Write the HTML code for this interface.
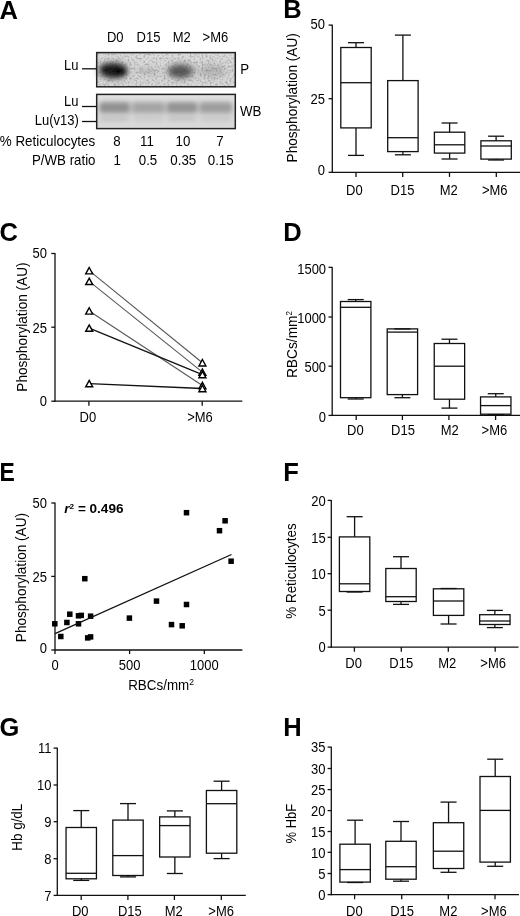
<!DOCTYPE html>
<html><head><meta charset="utf-8"><title>Figure</title>
<style>
html,body{margin:0;padding:0;background:#fff;}
svg{display:block;will-change:transform;}
text{font-family:"Liberation Sans", sans-serif;fill:#000;}
</style></head><body>
<svg width="520" height="916" viewBox="0 0 520 916">
<defs>
<linearGradient id="pbg" x1="0" y1="0" x2="0" y2="1">
<stop offset="0" stop-color="#dedede"/><stop offset="0.5" stop-color="#d6d6d6"/><stop offset="1" stop-color="#dadada"/>
</linearGradient>
<linearGradient id="wbbg" x1="0" y1="0" x2="0" y2="1">
<stop offset="0" stop-color="#e2e2e2"/><stop offset="0.5" stop-color="#d4d4d4"/><stop offset="1" stop-color="#dadada"/>
</linearGradient>
<filter id="blur1" x="-20%" y="-50%" width="140%" height="200%"><feGaussianBlur stdDeviation="2.5"/></filter>
<filter id="blur2" x="-20%" y="-50%" width="140%" height="200%"><feGaussianBlur stdDeviation="2"/></filter>
<filter id="nz" x="0" y="0" width="1" height="1" filterUnits="objectBoundingBox" color-interpolation-filters="sRGB">
<feTurbulence type="fractalNoise" baseFrequency="0.5" numOctaves="2" seed="11" result="t"/>
<feColorMatrix in="t" type="matrix" values="0 0 0 0 0.3  0 0 0 0 0.3  0 0 0 0 0.3  0 0 0 1.0 -0.44" result="c"/>
<feGaussianBlur in="c" stdDeviation="0.55"/>
</filter>
</defs>
<rect width="520" height="916" fill="#fff"/>
<text transform="translate(-0.50,18.90) scale(1.0,1.0)" font-size="25.5" text-anchor="start" font-weight="bold" >A</text>
<text transform="translate(115.20,42.30) scale(1.0,1.08)" font-size="13" text-anchor="middle" font-weight="normal" >D0</text>
<text transform="translate(148.50,42.30) scale(1.0,1.08)" font-size="13" text-anchor="middle" font-weight="normal" >D15</text>
<text transform="translate(181.80,42.30) scale(1.0,1.08)" font-size="13" text-anchor="middle" font-weight="normal" >M2</text>
<text transform="translate(215.40,42.30) scale(1.0,1.08)" font-size="13" text-anchor="middle" font-weight="normal" >&gt;M6</text>
<rect x="96.7" y="52.6" width="138.6" height="34.2" fill="url(#pbg)" />
<g filter="url(#blur1)">
<ellipse cx="113" cy="70.5" rx="16.5" ry="10" fill="#777" opacity="0.55"/>
<ellipse cx="113.5" cy="70.5" rx="13.5" ry="7.5" fill="#111" opacity="0.92"/>
<ellipse cx="106" cy="68.5" rx="6" ry="4.5" fill="#111" opacity="0.8"/>
<ellipse cx="120" cy="72.5" rx="7" ry="4.5" fill="#000" opacity="0.8"/>
<ellipse cx="148" cy="71.5" rx="12" ry="2.2" fill="#888" opacity="0.45"/>
<ellipse cx="181" cy="71" rx="15" ry="8.5" fill="#777" opacity="0.6"/>
<ellipse cx="180" cy="71.5" rx="11" ry="6" fill="#3a3a3a" opacity="0.7"/>
<ellipse cx="212" cy="71" rx="13" ry="7" fill="#999" opacity="0.45"/>
</g>
<rect x="96.7" y="52.6" width="138.6" height="34.2" fill="#000" filter="url(#nz)"/>
<rect x="96.7" y="52.6" width="138.6" height="34.2" fill="none" stroke="#222" stroke-width="1.5"/>
<rect x="96.7" y="94.4" width="138.6" height="34.2" fill="url(#wbbg)" />
<g filter="url(#blur2)">
<rect x="99" y="101" width="134" height="13" rx="4" fill="#aaa" opacity="0.45"/>
<rect x="99.5" y="102.5" width="30.0" height="10" rx="4" fill="#888" opacity="0.85"/>
<rect x="100.5" y="116.5" width="28.0" height="4.5" rx="2" fill="#aaa" opacity="0.47"/>
<rect x="132.5" y="102.5" width="32.0" height="10" rx="4" fill="#888" opacity="0.5"/>
<rect x="133.5" y="116.5" width="30.0" height="4.5" rx="2" fill="#aaa" opacity="0.28"/>
<rect x="167" y="102.5" width="30" height="10" rx="4" fill="#888" opacity="0.8"/>
<rect x="168" y="116.5" width="28" height="4.5" rx="2" fill="#aaa" opacity="0.44"/>
<rect x="200" y="102.5" width="32" height="10" rx="4" fill="#888" opacity="0.62"/>
<rect x="201" y="116.5" width="30" height="4.5" rx="2" fill="#aaa" opacity="0.34"/>
</g>
<rect x="96.7" y="94.4" width="138.6" height="34.2" fill="none" stroke="#222" stroke-width="1.5"/>
<text transform="translate(78.50,70.00) scale(1.0,1.08)" font-size="13" text-anchor="end" font-weight="normal" >Lu</text>
<line x1="82.00" y1="68.80" x2="96.50" y2="68.80" stroke="#111" stroke-width="1.3"/>
<text transform="translate(78.50,105.80) scale(1.0,1.08)" font-size="13" text-anchor="end" font-weight="normal" >Lu</text>
<line x1="82.00" y1="106.50" x2="96.50" y2="106.50" stroke="#111" stroke-width="1.3"/>
<text transform="translate(78.80,124.70) scale(1.0,1.08)" font-size="13" text-anchor="end" font-weight="normal" >Lu(v13)</text>
<line x1="82.00" y1="121.50" x2="96.50" y2="121.50" stroke="#111" stroke-width="1.3"/>
<text transform="translate(240.30,74.00) scale(1.0,1.08)" font-size="13.3" text-anchor="start" font-weight="normal" >P</text>
<text transform="translate(240.00,115.70) scale(1.0,1.08)" font-size="13.3" text-anchor="start" font-weight="normal" >WB</text>
<text transform="translate(95.30,145.50) scale(1.0,1.08)" font-size="13.45" text-anchor="end" font-weight="normal" >% Reticulocytes</text>
<text transform="translate(95.50,165.30) scale(1.0,1.08)" font-size="13.3" text-anchor="end" font-weight="normal" >P/WB ratio</text>
<text transform="translate(117.00,145.50) scale(1.0,1.08)" font-size="13.3" text-anchor="middle" font-weight="normal" >8</text>
<text transform="translate(147.00,145.50) scale(1.0,1.08)" font-size="13.3" text-anchor="middle" font-weight="normal" >11</text>
<text transform="translate(183.00,145.50) scale(1.0,1.08)" font-size="13.3" text-anchor="middle" font-weight="normal" >10</text>
<text transform="translate(220.00,145.50) scale(1.0,1.08)" font-size="13.3" text-anchor="middle" font-weight="normal" >7</text>
<text transform="translate(117.30,165.30) scale(1.0,1.08)" font-size="13.3" text-anchor="middle" font-weight="normal" >1</text>
<text transform="translate(148.00,165.30) scale(1.0,1.08)" font-size="13.3" text-anchor="middle" font-weight="normal" >0.5</text>
<text transform="translate(183.30,165.30) scale(1.0,1.08)" font-size="13.3" text-anchor="middle" font-weight="normal" >0.35</text>
<text transform="translate(220.70,165.30) scale(1.0,1.08)" font-size="13.3" text-anchor="middle" font-weight="normal" >0.15</text>
<text transform="translate(283.20,17.50) scale(1.0,1.0)" font-size="25.5" text-anchor="start" font-weight="bold" >B</text>
<line x1="332.30" y1="24.70" x2="332.30" y2="172.90" stroke="#111" stroke-width="1.3"/>
<line x1="328.60" y1="25.10" x2="332.30" y2="25.10" stroke="#111" stroke-width="1.3"/>
<text transform="translate(324.90,29.05) scale(1.0,1.08)" font-size="13" text-anchor="end" font-weight="normal" >50</text>
<line x1="328.60" y1="98.70" x2="332.30" y2="98.70" stroke="#111" stroke-width="1.3"/>
<text transform="translate(324.90,103.85) scale(1.0,1.08)" font-size="13" text-anchor="end" font-weight="normal" >25</text>
<line x1="328.60" y1="172.30" x2="332.30" y2="172.30" stroke="#111" stroke-width="1.3"/>
<text transform="translate(324.90,175.35) scale(1.0,1.08)" font-size="13" text-anchor="end" font-weight="normal" >0</text>
<line x1="331.60" y1="172.30" x2="520.00" y2="172.30" stroke="#111" stroke-width="1.3"/>
<line x1="356.00" y1="172.30" x2="356.00" y2="176.90" stroke="#111" stroke-width="1.3"/>
<text transform="translate(354.30,194.50) scale(1.0,1.08)" font-size="13" text-anchor="middle" font-weight="normal" >D0</text>
<line x1="402.70" y1="172.30" x2="402.70" y2="176.90" stroke="#111" stroke-width="1.3"/>
<text transform="translate(402.50,194.50) scale(1.0,1.08)" font-size="13" text-anchor="middle" font-weight="normal" >D15</text>
<line x1="449.50" y1="172.30" x2="449.50" y2="176.90" stroke="#111" stroke-width="1.3"/>
<text transform="translate(448.80,194.50) scale(1.0,1.08)" font-size="13" text-anchor="middle" font-weight="normal" >M2</text>
<line x1="496.30" y1="172.30" x2="496.30" y2="176.90" stroke="#111" stroke-width="1.3"/>
<text transform="translate(494.75,194.50) scale(1.0,1.08)" font-size="13" text-anchor="middle" font-weight="normal" >&gt;M6</text>
<text transform="translate(296.80,97.85) rotate(-90) scale(1,1.08)" font-size="13.6" text-anchor="middle">Phosphorylation (AU)</text>
<line x1="356.00" y1="42.70" x2="356.00" y2="47.50" stroke="#111" stroke-width="1.3"/>
<line x1="356.00" y1="127.90" x2="356.00" y2="155.40" stroke="#111" stroke-width="1.3"/>
<line x1="348.00" y1="42.70" x2="364.00" y2="42.70" stroke="#111" stroke-width="1.3"/>
<line x1="348.00" y1="155.40" x2="364.00" y2="155.40" stroke="#111" stroke-width="1.3"/>
<rect x="340.80" y="47.50" width="30.40" height="80.40" fill="none" stroke="#111" stroke-width="1.3"/>
<line x1="340.80" y1="82.70" x2="371.20" y2="82.70" stroke="#111" stroke-width="1.3"/>
<line x1="402.90" y1="35.10" x2="402.90" y2="80.60" stroke="#111" stroke-width="1.3"/>
<line x1="402.90" y1="151.60" x2="402.90" y2="154.80" stroke="#111" stroke-width="1.3"/>
<line x1="394.90" y1="35.10" x2="410.90" y2="35.10" stroke="#111" stroke-width="1.3"/>
<line x1="394.90" y1="154.80" x2="410.90" y2="154.80" stroke="#111" stroke-width="1.3"/>
<rect x="387.70" y="80.60" width="30.40" height="71.00" fill="none" stroke="#111" stroke-width="1.3"/>
<line x1="387.70" y1="137.70" x2="418.10" y2="137.70" stroke="#111" stroke-width="1.3"/>
<line x1="449.60" y1="123.00" x2="449.60" y2="132.20" stroke="#111" stroke-width="1.3"/>
<line x1="449.60" y1="153.10" x2="449.60" y2="159.00" stroke="#111" stroke-width="1.3"/>
<line x1="441.60" y1="123.00" x2="457.60" y2="123.00" stroke="#111" stroke-width="1.3"/>
<line x1="441.60" y1="159.00" x2="457.60" y2="159.00" stroke="#111" stroke-width="1.3"/>
<rect x="434.40" y="132.20" width="30.40" height="20.90" fill="none" stroke="#111" stroke-width="1.3"/>
<line x1="434.40" y1="144.80" x2="464.80" y2="144.80" stroke="#111" stroke-width="1.3"/>
<line x1="496.10" y1="136.20" x2="496.10" y2="140.80" stroke="#111" stroke-width="1.3"/>
<line x1="496.10" y1="159.10" x2="496.10" y2="160.00" stroke="#111" stroke-width="1.3"/>
<line x1="488.10" y1="136.20" x2="504.10" y2="136.20" stroke="#111" stroke-width="1.3"/>
<line x1="488.10" y1="160.00" x2="504.10" y2="160.00" stroke="#111" stroke-width="1.3"/>
<rect x="480.90" y="140.80" width="30.40" height="18.30" fill="none" stroke="#111" stroke-width="1.3"/>
<line x1="480.90" y1="146.00" x2="511.30" y2="146.00" stroke="#111" stroke-width="1.3"/>
<text transform="translate(-0.50,240.60) scale(1.0,1.0)" font-size="25.5" text-anchor="start" font-weight="bold" >C</text>
<line x1="55.00" y1="253.10" x2="55.00" y2="401.80" stroke="#111" stroke-width="1.3"/>
<line x1="51.30" y1="253.50" x2="55.00" y2="253.50" stroke="#111" stroke-width="1.3"/>
<text transform="translate(47.00,257.60) scale(1.0,1.08)" font-size="13" text-anchor="end" font-weight="normal" >50</text>
<line x1="51.30" y1="327.20" x2="55.00" y2="327.20" stroke="#111" stroke-width="1.3"/>
<text transform="translate(47.00,332.85) scale(1.0,1.08)" font-size="13" text-anchor="end" font-weight="normal" >25</text>
<line x1="51.30" y1="401.20" x2="55.00" y2="401.20" stroke="#111" stroke-width="1.3"/>
<text transform="translate(47.00,405.85) scale(1.0,1.08)" font-size="13" text-anchor="end" font-weight="normal" >0</text>
<line x1="54.40" y1="401.20" x2="242.30" y2="401.20" stroke="#111" stroke-width="1.3"/>
<line x1="88.90" y1="401.20" x2="88.90" y2="405.80" stroke="#111" stroke-width="1.3"/>
<text transform="translate(87.85,421.50) scale(1.0,1.08)" font-size="13" text-anchor="middle" font-weight="normal" >D0</text>
<line x1="202.20" y1="401.20" x2="202.20" y2="405.80" stroke="#111" stroke-width="1.3"/>
<text transform="translate(199.95,421.50) scale(1.0,1.08)" font-size="13" text-anchor="middle" font-weight="normal" >&gt;M6</text>
<text transform="translate(26.50,327.10) rotate(-90) scale(1,1.08)" font-size="13.6" text-anchor="middle">Phosphorylation (AU)</text>
<line x1="89.20" y1="270.71" x2="202.40" y2="362.73" stroke="#555" stroke-width="1.05"/>
<line x1="89.20" y1="281.36" x2="202.40" y2="372.20" stroke="#555" stroke-width="1.05"/>
<line x1="89.20" y1="310.95" x2="202.40" y2="385.52" stroke="#555" stroke-width="1.05"/>
<line x1="89.20" y1="328.11" x2="202.40" y2="374.57" stroke="#111" stroke-width="1.3"/>
<line x1="89.20" y1="383.59" x2="202.40" y2="388.48" stroke="#111" stroke-width="1.3"/>
<path d="M89.20,267.51 L92.70,273.91 L85.70,273.91 Z" fill="#fff" stroke="#000" stroke-width="1.4" stroke-linejoin="miter"/>
<path d="M89.20,278.16 L92.70,284.56 L85.70,284.56 Z" fill="#fff" stroke="#000" stroke-width="1.4" stroke-linejoin="miter"/>
<path d="M89.20,307.75 L92.70,314.15 L85.70,314.15 Z" fill="#fff" stroke="#000" stroke-width="1.4" stroke-linejoin="miter"/>
<path d="M89.20,324.91 L92.70,331.31 L85.70,331.31 Z" fill="#fff" stroke="#000" stroke-width="1.4" stroke-linejoin="miter"/>
<path d="M89.20,380.39 L92.70,386.79 L85.70,386.79 Z" fill="#fff" stroke="#000" stroke-width="1.4" stroke-linejoin="miter"/>
<path d="M202.40,359.53 L205.90,365.93 L198.90,365.93 Z" fill="#fff" stroke="#000" stroke-width="1.4" stroke-linejoin="miter"/>
<path d="M202.40,369.00 L205.90,375.40 L198.90,375.40 Z" fill="#fff" stroke="#000" stroke-width="1.4" stroke-linejoin="miter"/>
<path d="M202.40,371.37 L205.90,377.77 L198.90,377.77 Z" fill="#fff" stroke="#000" stroke-width="1.4" stroke-linejoin="miter"/>
<path d="M202.40,382.32 L205.90,388.72 L198.90,388.72 Z" fill="#fff" stroke="#000" stroke-width="1.4" stroke-linejoin="miter"/>
<path d="M202.40,385.28 L205.90,391.68 L198.90,391.68 Z" fill="#fff" stroke="#000" stroke-width="1.4" stroke-linejoin="miter"/>
<text transform="translate(283.20,240.80) scale(1.0,1.0)" font-size="25.5" text-anchor="start" font-weight="bold" >D</text>
<line x1="332.20" y1="266.90" x2="332.20" y2="416.00" stroke="#111" stroke-width="1.3"/>
<line x1="328.50" y1="267.30" x2="332.20" y2="267.30" stroke="#111" stroke-width="1.3"/>
<text transform="translate(326.10,273.85) scale(1.0,1.08)" font-size="13" text-anchor="end" font-weight="normal" >1500</text>
<line x1="328.50" y1="317.00" x2="332.20" y2="317.00" stroke="#111" stroke-width="1.3"/>
<text transform="translate(326.10,322.65) scale(1.0,1.08)" font-size="13" text-anchor="end" font-weight="normal" >1000</text>
<line x1="328.50" y1="366.20" x2="332.20" y2="366.20" stroke="#111" stroke-width="1.3"/>
<text transform="translate(326.10,371.95) scale(1.0,1.08)" font-size="13" text-anchor="end" font-weight="normal" >500</text>
<line x1="328.50" y1="415.40" x2="332.20" y2="415.40" stroke="#111" stroke-width="1.3"/>
<text transform="translate(326.10,421.95) scale(1.0,1.08)" font-size="13" text-anchor="end" font-weight="normal" >0</text>
<line x1="331.40" y1="415.40" x2="520.00" y2="415.40" stroke="#111" stroke-width="1.3"/>
<line x1="356.20" y1="415.40" x2="356.20" y2="420.00" stroke="#111" stroke-width="1.3"/>
<text transform="translate(355.40,434.80) scale(1.0,1.08)" font-size="13" text-anchor="middle" font-weight="normal" >D0</text>
<line x1="402.40" y1="415.40" x2="402.40" y2="420.00" stroke="#111" stroke-width="1.3"/>
<text transform="translate(403.00,434.80) scale(1.0,1.08)" font-size="13" text-anchor="middle" font-weight="normal" >D15</text>
<line x1="448.90" y1="415.40" x2="448.90" y2="420.00" stroke="#111" stroke-width="1.3"/>
<text transform="translate(449.65,434.80) scale(1.0,1.08)" font-size="13" text-anchor="middle" font-weight="normal" >M2</text>
<line x1="495.60" y1="415.40" x2="495.60" y2="420.00" stroke="#111" stroke-width="1.3"/>
<text transform="translate(494.40,434.80) scale(1.0,1.08)" font-size="13" text-anchor="middle" font-weight="normal" >&gt;M6</text>
<text transform="translate(297.4,344.55) rotate(-90) scale(1,1.08)" font-size="13.75" text-anchor="middle">RBCs/mm<tspan font-size="8" dy="-5.2">2</tspan></text>
<line x1="355.70" y1="299.60" x2="355.70" y2="301.50" stroke="#111" stroke-width="1.3"/>
<line x1="355.70" y1="397.70" x2="355.70" y2="399.00" stroke="#111" stroke-width="1.3"/>
<line x1="347.70" y1="299.60" x2="363.70" y2="299.60" stroke="#111" stroke-width="1.3"/>
<line x1="347.70" y1="399.00" x2="363.70" y2="399.00" stroke="#111" stroke-width="1.3"/>
<rect x="340.50" y="301.50" width="30.40" height="96.20" fill="none" stroke="#111" stroke-width="1.3"/>
<line x1="340.50" y1="307.30" x2="370.90" y2="307.30" stroke="#111" stroke-width="1.3"/>
<line x1="402.40" y1="328.90" x2="402.40" y2="328.90" stroke="#111" stroke-width="1.3"/>
<line x1="402.40" y1="394.60" x2="402.40" y2="397.70" stroke="#111" stroke-width="1.3"/>
<line x1="394.40" y1="328.90" x2="410.40" y2="328.90" stroke="#111" stroke-width="1.3"/>
<line x1="394.40" y1="397.70" x2="410.40" y2="397.70" stroke="#111" stroke-width="1.3"/>
<rect x="387.20" y="328.90" width="30.40" height="65.70" fill="none" stroke="#111" stroke-width="1.3"/>
<line x1="387.20" y1="332.10" x2="417.60" y2="332.10" stroke="#111" stroke-width="1.3"/>
<line x1="449.45" y1="339.20" x2="449.45" y2="343.50" stroke="#111" stroke-width="1.3"/>
<line x1="449.45" y1="399.20" x2="449.45" y2="408.10" stroke="#111" stroke-width="1.3"/>
<line x1="441.45" y1="339.20" x2="457.45" y2="339.20" stroke="#111" stroke-width="1.3"/>
<line x1="441.45" y1="408.10" x2="457.45" y2="408.10" stroke="#111" stroke-width="1.3"/>
<rect x="434.25" y="343.50" width="30.40" height="55.70" fill="none" stroke="#111" stroke-width="1.3"/>
<line x1="434.25" y1="366.20" x2="464.65" y2="366.20" stroke="#111" stroke-width="1.3"/>
<line x1="495.75" y1="393.70" x2="495.75" y2="396.90" stroke="#111" stroke-width="1.3"/>
<line x1="495.75" y1="414.20" x2="495.75" y2="414.60" stroke="#111" stroke-width="1.3"/>
<line x1="487.75" y1="393.70" x2="503.75" y2="393.70" stroke="#111" stroke-width="1.3"/>
<line x1="487.75" y1="414.60" x2="503.75" y2="414.60" stroke="#111" stroke-width="1.3"/>
<rect x="480.55" y="396.90" width="30.40" height="17.30" fill="none" stroke="#111" stroke-width="1.3"/>
<line x1="480.55" y1="405.60" x2="510.95" y2="405.60" stroke="#111" stroke-width="1.3"/>
<text transform="translate(-0.40,481.10) scale(0.9,1.0)" font-size="25.5" text-anchor="start" font-weight="bold" >E</text>
<line x1="55.00" y1="502.60" x2="55.00" y2="650.60" stroke="#111" stroke-width="1.3"/>
<line x1="51.30" y1="503.00" x2="55.00" y2="503.00" stroke="#111" stroke-width="1.3"/>
<text transform="translate(47.00,508.20) scale(1.0,1.08)" font-size="13" text-anchor="end" font-weight="normal" >50</text>
<line x1="51.30" y1="576.40" x2="55.00" y2="576.40" stroke="#111" stroke-width="1.3"/>
<text transform="translate(47.00,581.75) scale(1.0,1.08)" font-size="13" text-anchor="end" font-weight="normal" >25</text>
<line x1="51.30" y1="650.00" x2="55.00" y2="650.00" stroke="#111" stroke-width="1.3"/>
<text transform="translate(47.00,653.35) scale(1.0,1.08)" font-size="13" text-anchor="end" font-weight="normal" >0</text>
<line x1="55.00" y1="650.00" x2="242.40" y2="650.00" stroke="#111" stroke-width="1.3"/>
<line x1="55.00" y1="650.00" x2="55.00" y2="654.00" stroke="#111" stroke-width="1.3"/>
<text transform="translate(55.00,669.60) scale(1.0,1.08)" font-size="13" text-anchor="middle" font-weight="normal" >0</text>
<line x1="129.60" y1="650.00" x2="129.60" y2="654.00" stroke="#111" stroke-width="1.3"/>
<text transform="translate(129.60,669.60) scale(1.0,1.08)" font-size="13" text-anchor="middle" font-weight="normal" >500</text>
<line x1="204.30" y1="650.00" x2="204.30" y2="654.00" stroke="#111" stroke-width="1.3"/>
<text transform="translate(204.30,669.60) scale(1.0,1.08)" font-size="13" text-anchor="middle" font-weight="normal" >1000</text>
<text transform="translate(26.20,577.60) rotate(-90) scale(1,1.08)" font-size="13.6" text-anchor="middle">Phosphorylation (AU)</text>
<text transform="translate(128.2,690.2) scale(1,1.08)" font-size="13.4">RBCs/mm<tspan font-size="8.5" dy="-5">2</tspan></text>
<text transform="translate(64.3,513.4) scale(1.085,1)" font-size="12.5" font-weight="bold"><tspan font-style="italic">r</tspan><tspan font-size="7.5" dy="-4.6">2</tspan><tspan dy="4.6"> = 0.496</tspan></text>
<rect x="52.05" y="621.05" width="5.5" height="5.5" fill="#000"/>
<rect x="58.05" y="633.75" width="5.5" height="5.5" fill="#000"/>
<rect x="64.15" y="619.75" width="5.5" height="5.5" fill="#000"/>
<rect x="67.05" y="611.45" width="5.5" height="5.5" fill="#000"/>
<rect x="75.75" y="613.05" width="5.5" height="5.5" fill="#000"/>
<rect x="78.55" y="612.65" width="5.5" height="5.5" fill="#000"/>
<rect x="75.75" y="621.05" width="5.5" height="5.5" fill="#000"/>
<rect x="82.05" y="575.95" width="5.5" height="5.5" fill="#000"/>
<rect x="87.85" y="613.45" width="5.5" height="5.5" fill="#000"/>
<rect x="84.95" y="635.15" width="5.5" height="5.5" fill="#000"/>
<rect x="87.85" y="634.15" width="5.5" height="5.5" fill="#000"/>
<rect x="126.65" y="615.35" width="5.5" height="5.5" fill="#000"/>
<rect x="183.75" y="509.95" width="5.5" height="5.5" fill="#000"/>
<rect x="222.35" y="518.05" width="5.5" height="5.5" fill="#000"/>
<rect x="216.75" y="527.95" width="5.5" height="5.5" fill="#000"/>
<rect x="228.35" y="558.45" width="5.5" height="5.5" fill="#000"/>
<rect x="153.75" y="598.35" width="5.5" height="5.5" fill="#000"/>
<rect x="183.75" y="601.75" width="5.5" height="5.5" fill="#000"/>
<rect x="168.75" y="621.85" width="5.5" height="5.5" fill="#000"/>
<rect x="179.45" y="623.05" width="5.5" height="5.5" fill="#000"/>
<line x1="55.00" y1="633.70" x2="231.50" y2="554.50" stroke="#111" stroke-width="1.3"/>
<text transform="translate(283.20,480.80) scale(1.0,1.0)" font-size="25.5" text-anchor="start" font-weight="bold" >F</text>
<line x1="331.30" y1="500.00" x2="331.30" y2="647.70" stroke="#111" stroke-width="1.3"/>
<line x1="327.60" y1="500.40" x2="331.30" y2="500.40" stroke="#111" stroke-width="1.3"/>
<text transform="translate(325.80,505.75) scale(1.0,1.08)" font-size="13" text-anchor="end" font-weight="normal" >20</text>
<line x1="327.60" y1="537.30" x2="331.30" y2="537.30" stroke="#111" stroke-width="1.3"/>
<text transform="translate(325.80,542.65) scale(1.0,1.08)" font-size="13" text-anchor="end" font-weight="normal" >15</text>
<line x1="327.60" y1="573.70" x2="331.30" y2="573.70" stroke="#111" stroke-width="1.3"/>
<text transform="translate(325.80,579.05) scale(1.0,1.08)" font-size="13" text-anchor="end" font-weight="normal" >10</text>
<line x1="327.60" y1="610.20" x2="331.30" y2="610.20" stroke="#111" stroke-width="1.3"/>
<text transform="translate(325.80,615.55) scale(1.0,1.08)" font-size="13" text-anchor="end" font-weight="normal" >5</text>
<line x1="327.60" y1="647.10" x2="331.30" y2="647.10" stroke="#111" stroke-width="1.3"/>
<text transform="translate(325.80,652.45) scale(1.0,1.08)" font-size="13" text-anchor="end" font-weight="normal" >0</text>
<line x1="330.70" y1="647.10" x2="518.50" y2="647.10" stroke="#111" stroke-width="1.3"/>
<line x1="354.40" y1="647.10" x2="354.40" y2="651.70" stroke="#111" stroke-width="1.3"/>
<text transform="translate(353.55,667.70) scale(1.0,1.08)" font-size="13" text-anchor="middle" font-weight="normal" >D0</text>
<line x1="401.30" y1="647.10" x2="401.30" y2="651.70" stroke="#111" stroke-width="1.3"/>
<text transform="translate(401.25,667.70) scale(1.0,1.08)" font-size="13" text-anchor="middle" font-weight="normal" >D15</text>
<line x1="448.30" y1="647.10" x2="448.30" y2="651.70" stroke="#111" stroke-width="1.3"/>
<text transform="translate(447.25,667.70) scale(1.0,1.08)" font-size="13" text-anchor="middle" font-weight="normal" >M2</text>
<line x1="495.20" y1="647.10" x2="495.20" y2="651.70" stroke="#111" stroke-width="1.3"/>
<text transform="translate(493.15,667.70) scale(1.0,1.08)" font-size="13" text-anchor="middle" font-weight="normal" >&gt;M6</text>
<text transform="translate(295.90,571.00) rotate(-90) scale(1,1.08)" font-size="13.4" text-anchor="middle">% Reticulocytes</text>
<line x1="354.60" y1="516.70" x2="354.60" y2="536.90" stroke="#111" stroke-width="1.3"/>
<line x1="354.60" y1="591.50" x2="354.60" y2="592.00" stroke="#111" stroke-width="1.3"/>
<line x1="346.60" y1="516.70" x2="362.60" y2="516.70" stroke="#111" stroke-width="1.3"/>
<line x1="346.60" y1="592.00" x2="362.60" y2="592.00" stroke="#111" stroke-width="1.3"/>
<rect x="339.40" y="536.90" width="30.40" height="54.60" fill="none" stroke="#111" stroke-width="1.3"/>
<line x1="339.40" y1="583.80" x2="369.80" y2="583.80" stroke="#111" stroke-width="1.3"/>
<line x1="401.00" y1="556.70" x2="401.00" y2="568.50" stroke="#111" stroke-width="1.3"/>
<line x1="401.00" y1="601.50" x2="401.00" y2="604.40" stroke="#111" stroke-width="1.3"/>
<line x1="393.00" y1="556.70" x2="409.00" y2="556.70" stroke="#111" stroke-width="1.3"/>
<line x1="393.00" y1="604.40" x2="409.00" y2="604.40" stroke="#111" stroke-width="1.3"/>
<rect x="385.80" y="568.50" width="30.40" height="33.00" fill="none" stroke="#111" stroke-width="1.3"/>
<line x1="385.80" y1="596.70" x2="416.20" y2="596.70" stroke="#111" stroke-width="1.3"/>
<line x1="448.60" y1="588.50" x2="448.60" y2="588.80" stroke="#111" stroke-width="1.3"/>
<line x1="448.60" y1="615.40" x2="448.60" y2="624.00" stroke="#111" stroke-width="1.3"/>
<line x1="440.60" y1="588.50" x2="456.60" y2="588.50" stroke="#111" stroke-width="1.3"/>
<line x1="440.60" y1="624.00" x2="456.60" y2="624.00" stroke="#111" stroke-width="1.3"/>
<rect x="433.40" y="588.80" width="30.40" height="26.60" fill="none" stroke="#111" stroke-width="1.3"/>
<line x1="433.40" y1="601.00" x2="463.80" y2="601.00" stroke="#111" stroke-width="1.3"/>
<line x1="494.85" y1="610.40" x2="494.85" y2="614.70" stroke="#111" stroke-width="1.3"/>
<line x1="494.85" y1="624.50" x2="494.85" y2="627.60" stroke="#111" stroke-width="1.3"/>
<line x1="486.85" y1="610.40" x2="502.85" y2="610.40" stroke="#111" stroke-width="1.3"/>
<line x1="486.85" y1="627.60" x2="502.85" y2="627.60" stroke="#111" stroke-width="1.3"/>
<rect x="479.65" y="614.70" width="30.40" height="9.80" fill="none" stroke="#111" stroke-width="1.3"/>
<line x1="479.65" y1="621.00" x2="510.05" y2="621.00" stroke="#111" stroke-width="1.3"/>
<text transform="translate(-0.50,735.60) scale(1.0,1.0)" font-size="25.5" text-anchor="start" font-weight="bold" >G</text>
<line x1="57.30" y1="747.70" x2="57.30" y2="896.00" stroke="#111" stroke-width="1.3"/>
<line x1="53.60" y1="748.10" x2="57.30" y2="748.10" stroke="#111" stroke-width="1.3"/>
<text transform="translate(51.50,753.45) scale(1.0,1.08)" font-size="13" text-anchor="end" font-weight="normal" >11</text>
<line x1="53.60" y1="785.00" x2="57.30" y2="785.00" stroke="#111" stroke-width="1.3"/>
<text transform="translate(51.50,790.35) scale(1.0,1.08)" font-size="13" text-anchor="end" font-weight="normal" >10</text>
<line x1="53.60" y1="821.70" x2="57.30" y2="821.70" stroke="#111" stroke-width="1.3"/>
<text transform="translate(51.50,827.05) scale(1.0,1.08)" font-size="13" text-anchor="end" font-weight="normal" >9</text>
<line x1="53.60" y1="858.70" x2="57.30" y2="858.70" stroke="#111" stroke-width="1.3"/>
<text transform="translate(51.50,864.05) scale(1.0,1.08)" font-size="13" text-anchor="end" font-weight="normal" >8</text>
<line x1="53.60" y1="895.40" x2="57.30" y2="895.40" stroke="#111" stroke-width="1.3"/>
<text transform="translate(51.50,900.75) scale(1.0,1.08)" font-size="13" text-anchor="end" font-weight="normal" >7</text>
<line x1="56.70" y1="895.40" x2="245.80" y2="895.40" stroke="#111" stroke-width="1.3"/>
<line x1="81.20" y1="895.40" x2="81.20" y2="900.00" stroke="#111" stroke-width="1.3"/>
<text transform="translate(80.20,916.20) scale(1.0,1.08)" font-size="13" text-anchor="middle" font-weight="normal" >D0</text>
<line x1="127.90" y1="895.40" x2="127.90" y2="900.00" stroke="#111" stroke-width="1.3"/>
<text transform="translate(129.80,916.20) scale(1.0,1.08)" font-size="13" text-anchor="middle" font-weight="normal" >D15</text>
<line x1="174.40" y1="895.40" x2="174.40" y2="900.00" stroke="#111" stroke-width="1.3"/>
<text transform="translate(173.65,916.20) scale(1.0,1.08)" font-size="13" text-anchor="middle" font-weight="normal" >M2</text>
<line x1="221.30" y1="895.40" x2="221.30" y2="900.00" stroke="#111" stroke-width="1.3"/>
<text transform="translate(221.15,916.20) scale(1.0,1.08)" font-size="13" text-anchor="middle" font-weight="normal" >&gt;M6</text>
<text transform="translate(22.00,827.20) rotate(-90) scale(1,1.08)" font-size="13.4" text-anchor="middle">Hb g/dL</text>
<line x1="81.25" y1="810.60" x2="81.25" y2="827.50" stroke="#111" stroke-width="1.3"/>
<line x1="81.25" y1="878.80" x2="81.25" y2="880.40" stroke="#111" stroke-width="1.3"/>
<line x1="73.25" y1="810.60" x2="89.25" y2="810.60" stroke="#111" stroke-width="1.3"/>
<line x1="73.25" y1="880.40" x2="89.25" y2="880.40" stroke="#111" stroke-width="1.3"/>
<rect x="66.05" y="827.50" width="30.40" height="51.30" fill="none" stroke="#111" stroke-width="1.3"/>
<line x1="66.05" y1="873.30" x2="96.45" y2="873.30" stroke="#111" stroke-width="1.3"/>
<line x1="128.00" y1="803.60" x2="128.00" y2="820.10" stroke="#111" stroke-width="1.3"/>
<line x1="128.00" y1="875.50" x2="128.00" y2="876.90" stroke="#111" stroke-width="1.3"/>
<line x1="120.00" y1="803.60" x2="136.00" y2="803.60" stroke="#111" stroke-width="1.3"/>
<line x1="120.00" y1="876.90" x2="136.00" y2="876.90" stroke="#111" stroke-width="1.3"/>
<rect x="112.80" y="820.10" width="30.40" height="55.40" fill="none" stroke="#111" stroke-width="1.3"/>
<line x1="112.80" y1="855.60" x2="143.20" y2="855.60" stroke="#111" stroke-width="1.3"/>
<line x1="174.85" y1="810.90" x2="174.85" y2="816.90" stroke="#111" stroke-width="1.3"/>
<line x1="174.85" y1="857.00" x2="174.85" y2="873.50" stroke="#111" stroke-width="1.3"/>
<line x1="166.85" y1="810.90" x2="182.85" y2="810.90" stroke="#111" stroke-width="1.3"/>
<line x1="166.85" y1="873.50" x2="182.85" y2="873.50" stroke="#111" stroke-width="1.3"/>
<rect x="159.65" y="816.90" width="30.40" height="40.10" fill="none" stroke="#111" stroke-width="1.3"/>
<line x1="159.65" y1="825.60" x2="190.05" y2="825.60" stroke="#111" stroke-width="1.3"/>
<line x1="221.60" y1="781.20" x2="221.60" y2="790.50" stroke="#111" stroke-width="1.3"/>
<line x1="221.60" y1="853.20" x2="221.60" y2="858.60" stroke="#111" stroke-width="1.3"/>
<line x1="213.60" y1="781.20" x2="229.60" y2="781.20" stroke="#111" stroke-width="1.3"/>
<line x1="213.60" y1="858.60" x2="229.60" y2="858.60" stroke="#111" stroke-width="1.3"/>
<rect x="206.40" y="790.50" width="30.40" height="62.70" fill="none" stroke="#111" stroke-width="1.3"/>
<line x1="206.40" y1="803.70" x2="236.80" y2="803.70" stroke="#111" stroke-width="1.3"/>
<text transform="translate(283.20,736.20) scale(1.0,1.0)" font-size="25.5" text-anchor="start" font-weight="bold" >H</text>
<line x1="331.30" y1="746.70" x2="331.30" y2="895.20" stroke="#111" stroke-width="1.3"/>
<line x1="327.60" y1="747.10" x2="331.30" y2="747.10" stroke="#111" stroke-width="1.3"/>
<text transform="translate(325.55,752.45) scale(1.0,1.08)" font-size="13" text-anchor="end" font-weight="normal" >35</text>
<line x1="327.60" y1="768.50" x2="331.30" y2="768.50" stroke="#111" stroke-width="1.3"/>
<text transform="translate(325.55,773.85) scale(1.0,1.08)" font-size="13" text-anchor="end" font-weight="normal" >30</text>
<line x1="327.60" y1="789.60" x2="331.30" y2="789.60" stroke="#111" stroke-width="1.3"/>
<text transform="translate(325.55,794.95) scale(1.0,1.08)" font-size="13" text-anchor="end" font-weight="normal" >25</text>
<line x1="327.60" y1="810.60" x2="331.30" y2="810.60" stroke="#111" stroke-width="1.3"/>
<text transform="translate(325.55,815.95) scale(1.0,1.08)" font-size="13" text-anchor="end" font-weight="normal" >20</text>
<line x1="327.60" y1="831.50" x2="331.30" y2="831.50" stroke="#111" stroke-width="1.3"/>
<text transform="translate(325.55,836.85) scale(1.0,1.08)" font-size="13" text-anchor="end" font-weight="normal" >15</text>
<line x1="327.60" y1="852.30" x2="331.30" y2="852.30" stroke="#111" stroke-width="1.3"/>
<text transform="translate(325.55,857.65) scale(1.0,1.08)" font-size="13" text-anchor="end" font-weight="normal" >10</text>
<line x1="327.60" y1="873.50" x2="331.30" y2="873.50" stroke="#111" stroke-width="1.3"/>
<text transform="translate(325.55,878.85) scale(1.0,1.08)" font-size="13" text-anchor="end" font-weight="normal" >5</text>
<line x1="327.60" y1="894.60" x2="331.30" y2="894.60" stroke="#111" stroke-width="1.3"/>
<text transform="translate(325.55,899.95) scale(1.0,1.08)" font-size="13" text-anchor="end" font-weight="normal" >0</text>
<line x1="330.70" y1="894.60" x2="519.00" y2="894.60" stroke="#111" stroke-width="1.3"/>
<line x1="354.60" y1="894.60" x2="354.60" y2="899.20" stroke="#111" stroke-width="1.3"/>
<text transform="translate(354.30,916.30) scale(1.0,1.08)" font-size="13" text-anchor="middle" font-weight="normal" >D0</text>
<line x1="401.70" y1="894.60" x2="401.70" y2="899.20" stroke="#111" stroke-width="1.3"/>
<text transform="translate(402.15,916.30) scale(1.0,1.08)" font-size="13" text-anchor="middle" font-weight="normal" >D15</text>
<line x1="448.30" y1="894.60" x2="448.30" y2="899.20" stroke="#111" stroke-width="1.3"/>
<text transform="translate(448.35,916.30) scale(1.0,1.08)" font-size="13" text-anchor="middle" font-weight="normal" >M2</text>
<line x1="495.00" y1="894.60" x2="495.00" y2="899.20" stroke="#111" stroke-width="1.3"/>
<text transform="translate(493.85,916.30) scale(1.0,1.08)" font-size="13" text-anchor="middle" font-weight="normal" >&gt;M6</text>
<text transform="translate(296.30,823.60) rotate(-90) scale(1,1.08)" font-size="13.0" text-anchor="middle">% HbF</text>
<line x1="355.10" y1="820.20" x2="355.10" y2="844.20" stroke="#111" stroke-width="1.3"/>
<line x1="355.10" y1="882.10" x2="355.10" y2="882.50" stroke="#111" stroke-width="1.3"/>
<line x1="347.10" y1="820.20" x2="363.10" y2="820.20" stroke="#111" stroke-width="1.3"/>
<line x1="347.10" y1="882.50" x2="363.10" y2="882.50" stroke="#111" stroke-width="1.3"/>
<rect x="339.90" y="844.20" width="30.40" height="37.90" fill="none" stroke="#111" stroke-width="1.3"/>
<line x1="339.90" y1="869.60" x2="370.30" y2="869.60" stroke="#111" stroke-width="1.3"/>
<line x1="401.00" y1="821.50" x2="401.00" y2="841.30" stroke="#111" stroke-width="1.3"/>
<line x1="401.00" y1="879.20" x2="401.00" y2="881.20" stroke="#111" stroke-width="1.3"/>
<line x1="393.00" y1="821.50" x2="409.00" y2="821.50" stroke="#111" stroke-width="1.3"/>
<line x1="393.00" y1="881.20" x2="409.00" y2="881.20" stroke="#111" stroke-width="1.3"/>
<rect x="385.80" y="841.30" width="30.40" height="37.90" fill="none" stroke="#111" stroke-width="1.3"/>
<line x1="385.80" y1="866.70" x2="416.20" y2="866.70" stroke="#111" stroke-width="1.3"/>
<line x1="448.55" y1="802.10" x2="448.55" y2="822.70" stroke="#111" stroke-width="1.3"/>
<line x1="448.55" y1="868.50" x2="448.55" y2="872.30" stroke="#111" stroke-width="1.3"/>
<line x1="440.55" y1="802.10" x2="456.55" y2="802.10" stroke="#111" stroke-width="1.3"/>
<line x1="440.55" y1="872.30" x2="456.55" y2="872.30" stroke="#111" stroke-width="1.3"/>
<rect x="433.35" y="822.70" width="30.40" height="45.80" fill="none" stroke="#111" stroke-width="1.3"/>
<line x1="433.35" y1="851.20" x2="463.75" y2="851.20" stroke="#111" stroke-width="1.3"/>
<line x1="495.20" y1="759.20" x2="495.20" y2="776.50" stroke="#111" stroke-width="1.3"/>
<line x1="495.20" y1="862.10" x2="495.20" y2="866.30" stroke="#111" stroke-width="1.3"/>
<line x1="487.20" y1="759.20" x2="503.20" y2="759.20" stroke="#111" stroke-width="1.3"/>
<line x1="487.20" y1="866.30" x2="503.20" y2="866.30" stroke="#111" stroke-width="1.3"/>
<rect x="480.00" y="776.50" width="30.40" height="85.60" fill="none" stroke="#111" stroke-width="1.3"/>
<line x1="480.00" y1="810.40" x2="510.40" y2="810.40" stroke="#111" stroke-width="1.3"/>
</svg>
</body></html>
